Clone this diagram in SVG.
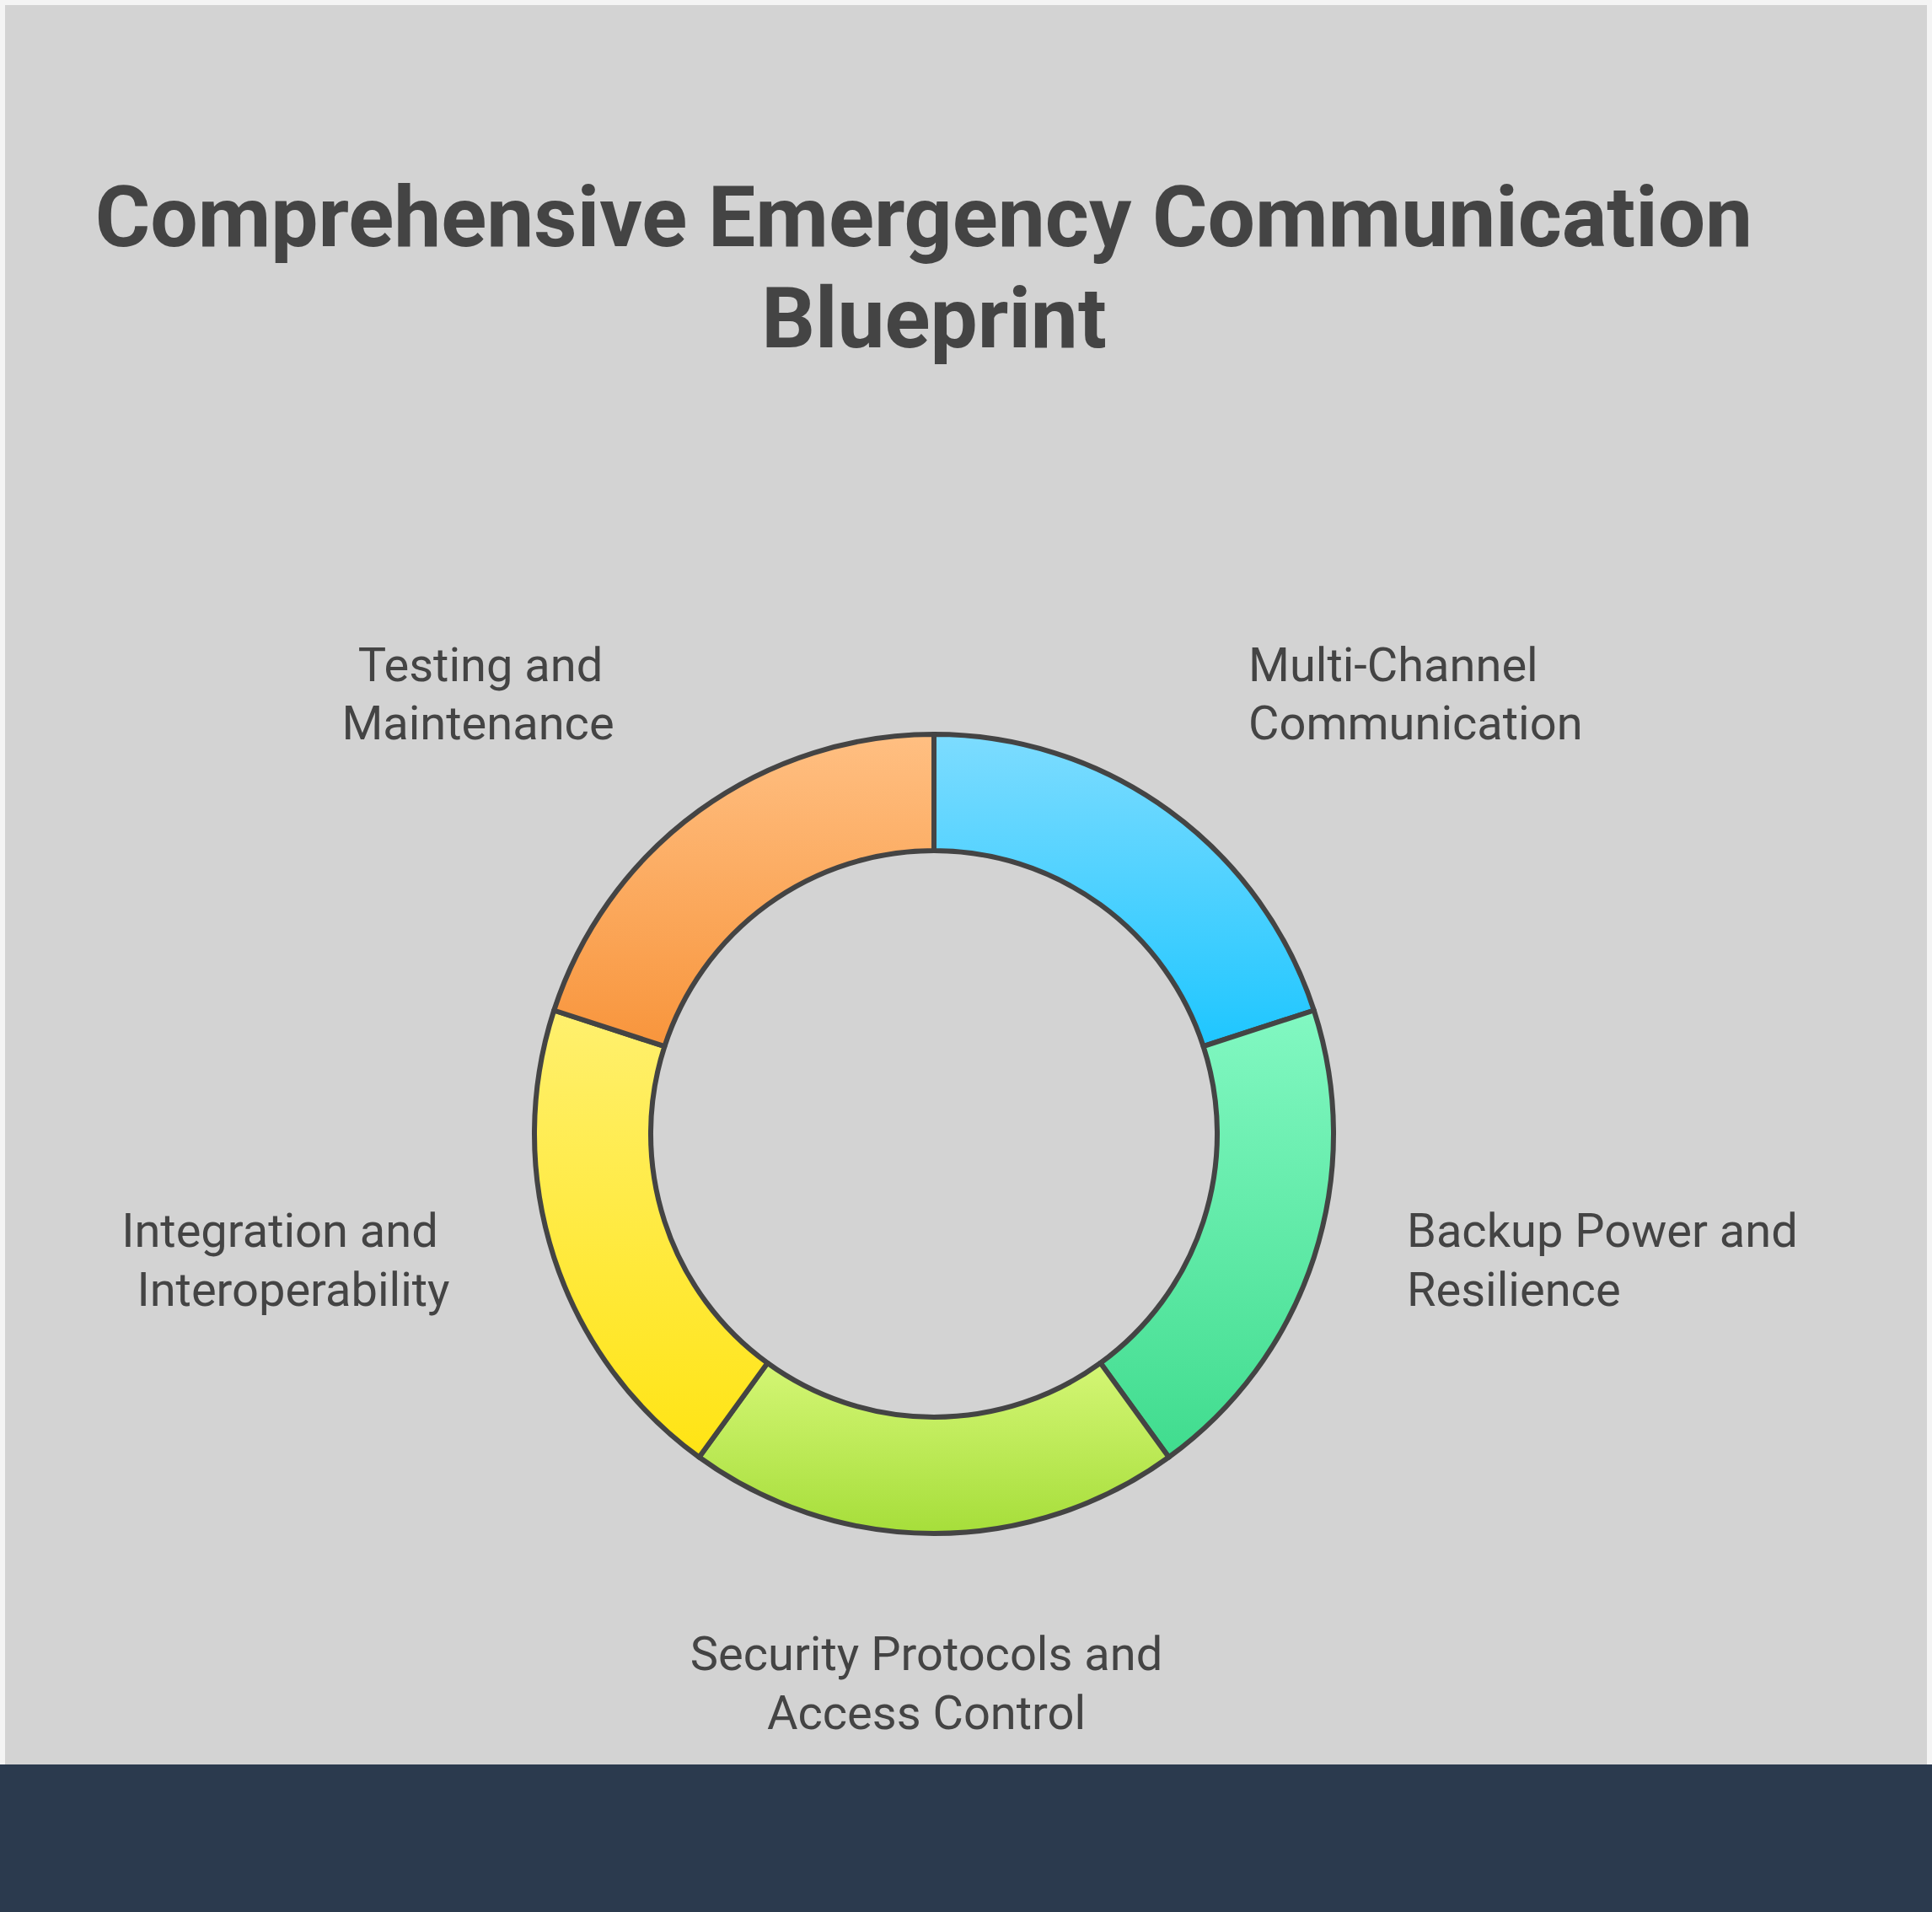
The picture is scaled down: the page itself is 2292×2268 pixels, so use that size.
<svg xmlns="http://www.w3.org/2000/svg" width="2292" height="2268" viewBox="0 0 2292 2268">
<style>
.seg{stroke:#444;stroke-width:6;stroke-linejoin:round}
.lbl{font-family:Roboto,"Liberation Sans",sans-serif;font-size:56px;fill:#444}
.ttl{font-family:Roboto,"Liberation Sans",sans-serif;font-size:100px;font-weight:bold;fill:#444;text-anchor:middle}
</style>
<defs>
<linearGradient id="gB" x1="0" y1="0" x2="0" y2="1"><stop offset="0" stop-color="#7ddcff"/><stop offset="1" stop-color="#1ec6ff"/></linearGradient>
<linearGradient id="gG" x1="0" y1="0" x2="0" y2="1"><stop offset="0" stop-color="#82f8c2"/><stop offset="1" stop-color="#40dc8e"/></linearGradient>
<linearGradient id="gL" x1="0" y1="0" x2="0" y2="1"><stop offset="0" stop-color="#d4f675"/><stop offset="1" stop-color="#a6de3a"/></linearGradient>
<linearGradient id="gY" x1="0" y1="0" x2="0" y2="1"><stop offset="0" stop-color="#fff06e"/><stop offset="1" stop-color="#ffe414"/></linearGradient>
<linearGradient id="gO" x1="0" y1="0" x2="0" y2="1"><stop offset="0" stop-color="#ffbf82"/><stop offset="1" stop-color="#f8953c"/></linearGradient>
</defs>
<rect width="2292" height="2268" fill="#f4f4f4"/>
<rect x="6" y="6" width="2280" height="2256" fill="#d3d3d3"/>
<rect x="0" y="2093" width="2292" height="175" fill="#2b3a4e"/>
<text class="ttl" x="1096" y="292">Comprehensive Emergency Communication</text>
<text class="ttl" x="1108" y="412">Blueprint</text>
<g id="multi-channel"><path class="seg" fill="url(#gB)" d="M1108 871 A474 474 0 0 1 1558.8 1198.5 L1427.6 1241.2 A336 336 0 0 0 1108 1009 Z"/>
<text class="lbl" x="1481" y="808">Multi-Channel</text><text class="lbl" x="1481" y="877">Communication</text></g>
<g id="backup"><path class="seg" fill="url(#gG)" d="M1558.8 1198.5 A474 474 0 0 1 1386.6 1728.5 L1305.5 1616.8 A336 336 0 0 0 1427.6 1241.2 Z"/>
<text class="lbl" x="1669" y="1479">Backup Power and</text><text class="lbl" x="1669" y="1549">Resilience</text></g>
<g id="security"><path class="seg" fill="url(#gL)" d="M1386.6 1728.5 A474 474 0 0 1 829.4 1728.5 L910.5 1616.8 A336 336 0 0 0 1305.5 1616.8 Z"/>
<text class="lbl" x="1099" y="1981" text-anchor="middle">Security Protocols and</text><text class="lbl" x="1099" y="2051" text-anchor="middle">Access Control</text></g>
<g id="integration"><path class="seg" fill="url(#gY)" d="M829.4 1728.5 A474 474 0 0 1 657.2 1198.5 L788.4 1241.2 A336 336 0 0 0 910.5 1616.8 Z"/>
<text class="lbl" x="332" y="1479" text-anchor="middle">Integration and</text><text class="lbl" x="348" y="1549" text-anchor="middle">Interoperability</text></g>
<g id="testing"><path class="seg" fill="url(#gO)" d="M657.2 1198.5 A474 474 0 0 1 1108 871 L1108 1009 A336 336 0 0 0 788.4 1241.2 Z"/>
<text class="lbl" x="570" y="808" text-anchor="middle">Testing and</text><text class="lbl" x="567" y="877" text-anchor="middle">Maintenance</text></g>
<g id="connectors"/>
</svg>
